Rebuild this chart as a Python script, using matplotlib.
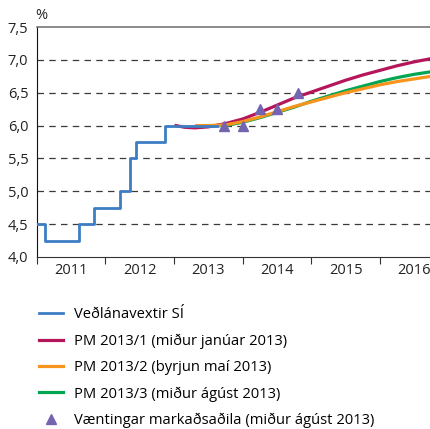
import matplotlib
matplotlib.use("Agg")
import matplotlib.pyplot as plt
from matplotlib.ticker import FixedLocator, FixedFormatter

plt.rcParams['font.family'] = ['Open Sans', 'DejaVu Sans']

# policy rate (steps), fractional years
rate_x = [2011.0, 2011.12, 2011.62, 2011.83, 2012.22, 2012.36, 2012.44, 2012.87, 2013.63]
rate_y = [4.5, 4.25, 4.5, 4.75, 5.0, 5.5, 5.75, 6.0, 6.0]

pm1_x = [2013.03, 2013.15, 2013.3, 2013.5, 2013.75, 2014.0, 2014.25, 2014.5, 2014.75,
         2015.0, 2015.25, 2015.5, 2015.75, 2016.0, 2016.25, 2016.5, 2016.75]
pm1_y = [6.0, 5.975, 5.965, 5.98, 6.03, 6.10, 6.20, 6.31, 6.42,
         6.51, 6.60, 6.69, 6.77, 6.84, 6.91, 6.97, 7.02]

pm2_x = [2013.33, 2013.5, 2013.75, 2014.0, 2014.25, 2014.5, 2014.75, 2015.0,
         2015.25, 2015.5, 2015.75, 2016.0, 2016.25, 2016.5, 2016.75]
pm2_y = [6.0, 6.0, 6.01, 6.06, 6.13, 6.21, 6.29, 6.36,
         6.43, 6.50, 6.56, 6.62, 6.67, 6.71, 6.75]

pm3_x = [2013.6, 2013.75, 2014.0, 2014.25, 2014.5, 2014.75, 2015.0,
         2015.25, 2015.5, 2015.75, 2016.0, 2016.25, 2016.5, 2016.75]
pm3_y = [6.0, 6.0, 6.05, 6.12, 6.20, 6.28, 6.37,
         6.45, 6.53, 6.60, 6.67, 6.73, 6.78, 6.82]

exp_x = [2013.73, 2014.0, 2014.25, 2014.5, 2014.8]
exp_y = [6.0, 6.0, 6.25, 6.25, 6.5]

labels = ["Veðlánavextir SÍ", "PM 2013/1 (miður janúar 2013)",
          "PM 2013/2 (byrjun maí 2013)", "PM 2013/3 (miður ágúst 2013)",
          "Væntingar markaðsaðila (miður ágúst 2013)"]
years = ["2011", "2012", "2013", "2014", "2015", "2016"]

fig = plt.figure(figsize=(4.30, 4.29), dpi=100)
ax = fig.add_axes([0.0853, 0.401, 0.9147, 0.536])

ax.set_xlim(2011, 2016.73)
ax.set_ylim(4.0, 7.5)

for g in [4.5, 5.0, 5.5, 6.0, 6.5, 7.0]:
    ax.axhline(g, color="#3a3a3a", lw=0.9, ls=(0, (5.2, 4.2)), zorder=1)

ax.plot(pm1_x, pm1_y, color="#b5165b", lw=2.3, zorder=3, label=labels[1])
ax.plot(pm2_x, pm2_y, color="#f7941d", lw=2.3, zorder=3.2, label=labels[2])
ax.plot(pm3_x, pm3_y, color="#00a651", lw=2.3, zorder=3.1, label=labels[3])
ax.plot(rate_x, rate_y, color="#3d7dc4", lw=2.0, drawstyle="steps-post",
        zorder=4, label=labels[0])
ax.plot(exp_x, exp_y, ls="none", marker="^", ms=7, color="#7565b0",
        zorder=5, label=labels[4])

ax.spines['right'].set_visible(False)
ax.spines['top'].set_color("#777777")
ax.spines['top'].set_linewidth(1.2)
ax.spines['left'].set_color("#111111")
ax.spines['bottom'].set_color("#333333")

ax.set_yticks([4.0, 4.5, 5.0, 5.5, 6.0, 6.5, 7.0, 7.5])
ax.set_yticklabels(["4,0", "4,5", "5,0", "5,5", "6,0", "6,5", "7,0", "7,5"])
ax.tick_params(axis='y', length=0, pad=6, labelsize=10.5, labelcolor="#222222")

ax.xaxis.set_major_locator(FixedLocator([2011, 2012, 2013, 2014, 2015, 2016]))
ax.xaxis.set_major_formatter(FixedFormatter([""] * 6))
ax.xaxis.set_minor_locator(FixedLocator([2011.5, 2012.5, 2013.5, 2014.5, 2015.5, 2016.5]))
ax.xaxis.set_minor_formatter(FixedFormatter(years))
ax.tick_params(axis='x', which='major', length=5, direction='out', color="#333333")
ax.tick_params(axis='x', which='minor', length=0, pad=4, labelsize=10.5,
               labelcolor="#222222")

fig.text(0.096, 0.965, "%", ha="center", va="center", fontsize=10.5, color="#222222")

h, l = ax.get_legend_handles_labels()
order = [3, 0, 1, 2, 4]
fig.legend([h[i] for i in order], [l[i] for i in order], loc="upper left",
           bbox_to_anchor=(0.077, 0.297), frameon=False, fontsize=10.6,
           handlelength=1.6, handletextpad=0.8, labelspacing=0.76,
           borderaxespad=0)

fig.savefig("out.png", dpi=100)
